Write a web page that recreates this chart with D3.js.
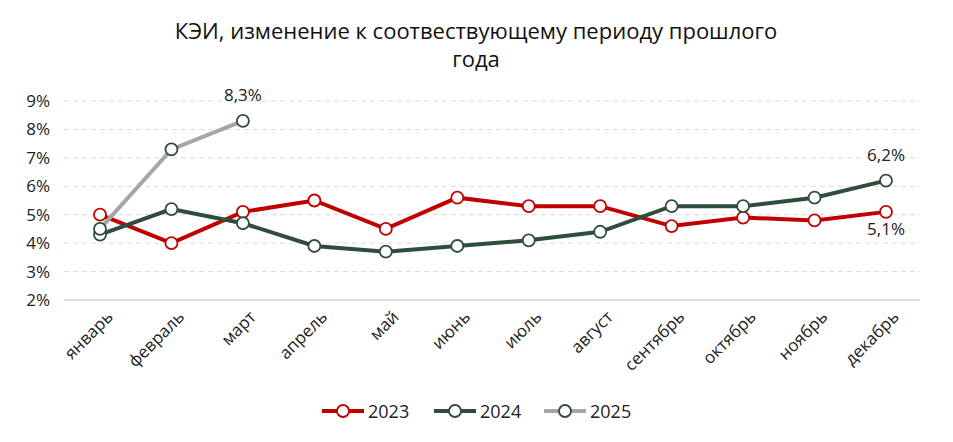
<!DOCTYPE html>
<html><head><meta charset="utf-8">
<script src="https://cdn.jsdelivr.net/npm/d3@7"></script>
<style>body{margin:0;background:#fff;font-family:"Open Sans",sans-serif}</style>
</head><body><svg id="c" width="953" height="442"></svg>
<script>
const months = ["январь","февраль","март","апрель","май","июнь","июль","август","сентябрь","октябрь","ноябрь","декабрь"];
const s2023 = [5.0,4.0,5.1,5.5,4.5,5.6,5.3,5.3,4.6,4.9,4.8,5.1];
const s2024 = [4.3,5.2,4.7,3.9,3.7,3.9,4.1,4.4,5.3,5.3,5.6,6.2];
const s2025 = [4.5,7.3,8.3];
const yTicks = [2,3,4,5,6,7,8,9];
const series = [
  {name:"2023", values:s2023, color:"#c00000"},
  {name:"2024", values:s2024, color:"#2e4d3b"},
  {name:"2025", values:s2025, color:"#a6a6a6"}
];

const svg = d3.select("#c");
const x = d3.scalePoint().domain(months).range([100,886]);
const y = d3.scaleLinear().domain([2,9]).range([300,101]);

svg.append("text").attr("x",476).attr("y",39).attr("text-anchor","middle")
  .attr("font-size",22).attr("fill","#111").text("КЭИ, изменение к соотвествующему периоду прошлого");
svg.append("text").attr("x",476).attr("y",67).attr("text-anchor","middle")
  .attr("font-size",22).attr("fill","#111").text("года");

svg.selectAll(".grid").data(yTicks).join("line")
  .attr("x1",64).attr("x2",920).attr("y1",d=>y(d)).attr("y2",d=>y(d))
  .attr("stroke",d=>d===2?"#bfbfbf":"#d9d9d9").attr("stroke-dasharray",d=>d===2?null:"5,4");
svg.selectAll(".yl").data(yTicks).join("text")
  .attr("x",50).attr("y",d=>y(d)+6).attr("text-anchor","end").attr("font-size",17).attr("fill","#222")
  .text(d=>d+"%");

svg.selectAll(".xl").data(months).join("text")
  .attr("transform",d=>`translate(${x(d)+14},${318}) rotate(-45)`)
  .attr("text-anchor","end").attr("font-size",17).attr("fill","#222").text(d=>d);

const line = d3.line().x((d,i)=>x(months[i])).y(d=>y(d));
series.forEach(s=>{
  svg.append("path").attr("d",line(s.values)).attr("fill","none")
    .attr("stroke",s.color).attr("stroke-width",4);
});
series.forEach(s=>{
  svg.selectAll(null).data(s.values).join("circle")
    .attr("cx",(d,i)=>x(months[i])).attr("cy",d=>y(d)).attr("r",6)
    .attr("fill","#fff").attr("stroke",s===series[2]?"#2e4d3b":s.color).attr("stroke-width",1.8);
});

const lab = (m,v,dy)=>svg.append("text").attr("x",x(m)).attr("y",y(v)+dy)
  .attr("text-anchor","middle").attr("font-size",17).attr("fill","#222").text(String(v).replace(".",",")+"%");
lab("март",s2025[2],-20);
lab("декабрь",s2024[11],-20);
lab("декабрь",s2023[11],23);

const lg = svg.append("g");
const lx = [322,434,544];
series.forEach((s,i)=>{
  lg.append("line").attr("x1",lx[i]).attr("x2",lx[i]+42).attr("y1",411).attr("y2",411)
    .attr("stroke",s.color).attr("stroke-width",4);
  lg.append("circle").attr("cx",lx[i]+21).attr("cy",411).attr("r",6).attr("fill","#fff")
    .attr("stroke",i===2?"#2e4d3b":s.color).attr("stroke-width",1.8);
  lg.append("text").attr("x",lx[i]+46).attr("y",418).attr("font-size",18).attr("fill","#222").text(s.name);
});
</script></body></html>
